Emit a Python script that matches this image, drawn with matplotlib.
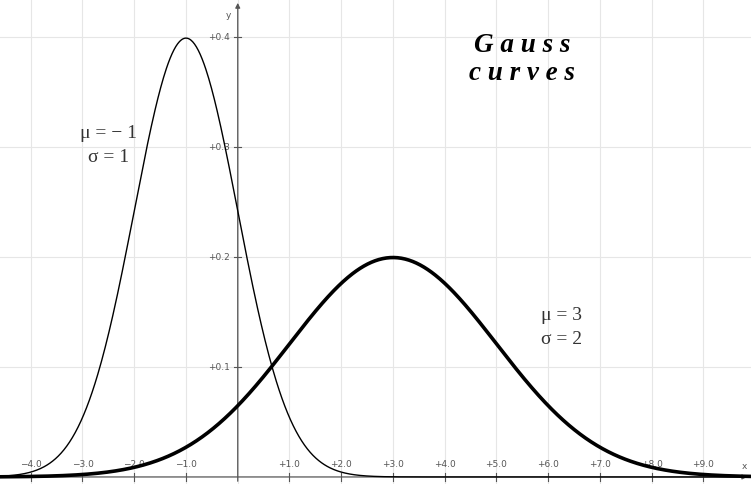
import numpy as np
import matplotlib.pyplot as plt

# curve parameters (mean, std) and their styles
mus = [-1, 3]
sigmas = [1, 2]
widths = [1.0, 2.6]

x_ticks = [-4, -3, -2, -1, 1, 2, 3, 4, 5, 6, 7, 8, 9]
x_labels = ["\u22124.0", "\u22123.0", "\u22122.0", "\u22121.0", "+1.0", "+2.0",
            "+3.0", "+4.0", "+5.0", "+6.0", "+7.0", "+8.0", "+9.0"]
y_ticks = [0.1, 0.2, 0.3, 0.4]
y_labels = ["+0.1", "+0.2", "+0.3", "+0.4"]

xmin, xmax = -4.594, 9.918
ymin, ymax = -0.0064, 0.4345

fig = plt.figure(figsize=(7.51, 4.85), dpi=100)
ax = fig.add_axes([0, 0, 1, 1])
ax.set_xlim(xmin, xmax)
ax.set_ylim(ymin, ymax)
ax.axis("off")

# grid
for gx in range(-4, 10):
    ax.axvline(gx, color="#e6e6e6", lw=0.8, zorder=0)
for gy in y_ticks:
    ax.axhline(gy, color="#e6e6e6", lw=0.8, zorder=0)

# axes with arrows
ax.annotate("", xy=(xmax - 0.02, 0), xytext=(xmin, 0),
            arrowprops=dict(arrowstyle="-|>", color="#555555", lw=0.9,
                            mutation_scale=7), zorder=1)
ax.annotate("", xy=(0, ymax - 0.001), xytext=(0, ymin),
            arrowprops=dict(arrowstyle="-|>", color="#555555", lw=0.9,
                            mutation_scale=7), zorder=1)

# tick marks and labels
for t, lab in zip(x_ticks, x_labels):
    ax.plot([t, t], [-0.0035, 0.0035], color="#555555", lw=0.8)
    ax.text(t, 0.0118, lab, ha="center", va="center", fontsize=6.5,
            color="#555555")
for t, lab in zip(y_ticks, y_labels):
    ax.plot([-0.07, 0.07], [t, t], color="#555555", lw=0.8)
    ax.text(-0.16, t, lab, ha="right", va="center", fontsize=6.5,
            color="#555555")
ax.text(9.80, 0.0105, "x", ha="center", va="center", fontsize=6.5, color="#555555")
ax.text(-0.18, 0.42, "y", ha="center", va="center", fontsize=6.5, color="#555555")

# curves
xs = np.linspace(xmin, xmax, 800)
for mu, sd, w in zip(mus, sigmas, widths):
    ys = np.exp(-0.5 * ((xs - mu) / sd) ** 2) / (sd * np.sqrt(2 * np.pi))
    ax.plot(xs, ys, color="black", lw=w, zorder=3)

# annotations
ax.text(5.50, 0.393, "G a u s s", ha="center", va="center", fontsize=19.5,
        family="Liberation Serif", weight="bold", style="italic")
ax.text(5.50, 0.368, "c u r v e s", ha="center", va="center", fontsize=19.5,
        family="Liberation Serif", weight="bold", style="italic")

ax.text(-2.50, 0.313, "\u03bc = \u2212 1", ha="center", va="center", fontsize=14,
        family="Liberation Serif", color="#333333")
ax.text(-2.50, 0.291, "\u03c3 = 1", ha="center", va="center", fontsize=14,
        family="Liberation Serif", color="#333333")
ax.text(6.25, 0.148, "\u03bc = 3", ha="center", va="center", fontsize=14,
        family="Liberation Serif", color="#333333")
ax.text(6.25, 0.126, "\u03c3 = 2", ha="center", va="center", fontsize=14,
        family="Liberation Serif", color="#333333")

fig.savefig("out.png", dpi=100)
